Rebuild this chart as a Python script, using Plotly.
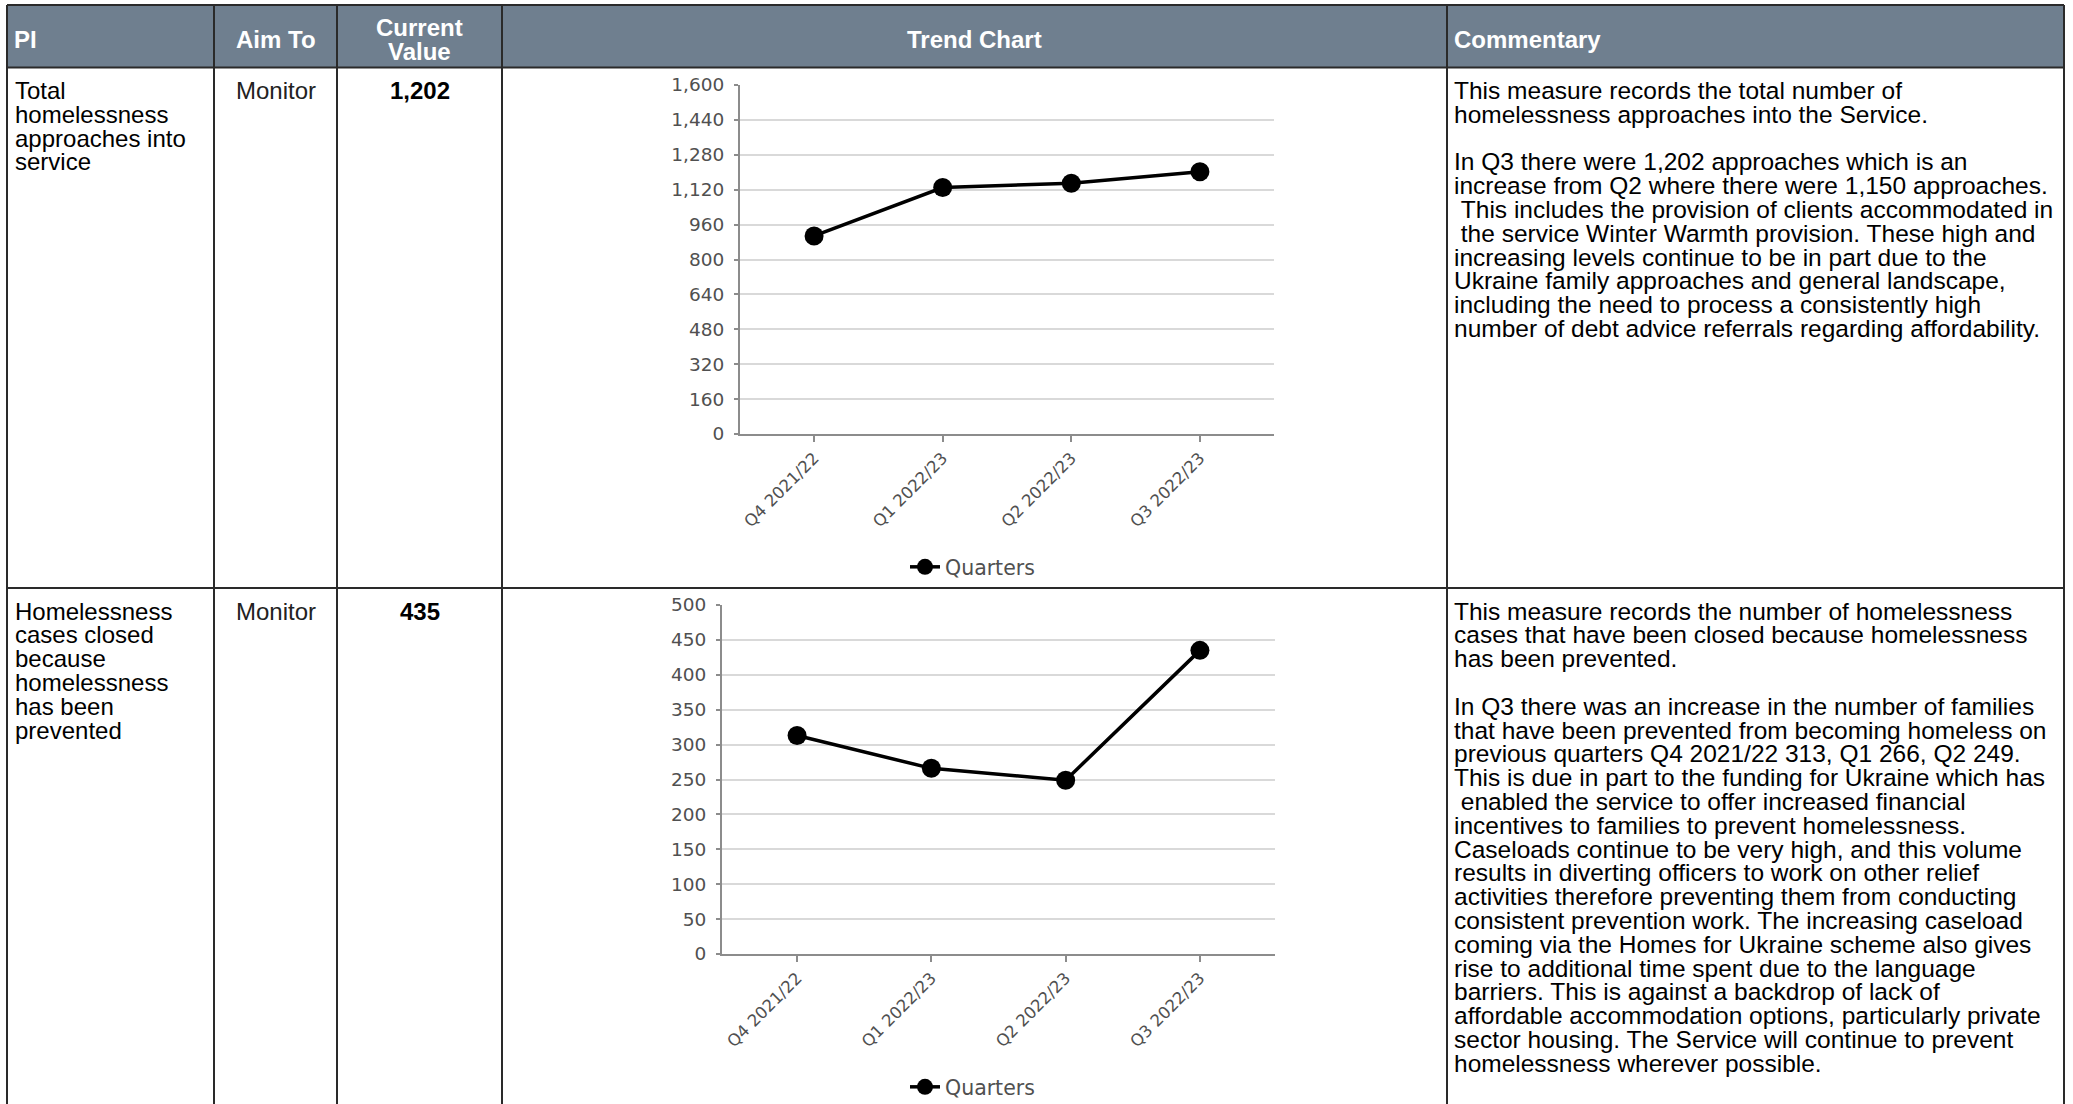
import plotly.graph_objects as go

W, H = 2073, 1104

# ---------------- data ----------------
quarters = ["Q4 2021/22", "Q1 2022/23", "Q2 2022/23", "Q3 2022/23"]
approaches = [908, 1130, 1150, 1202]
prevented = [313, 266, 249, 435]
y1_ticks = [0, 160, 320, 480, 640, 800, 960, 1120, 1280, 1440, 1600]
y2_ticks = [0, 50, 100, 150, 200, 250, 300, 350, 400, 450, 500]
series_name = "Quarters"

headers = ["PI", "Aim To", ["Current", "Value"], "Trend Chart", "Commentary"]
pi_names = [
    ["Total", "homelessness", "approaches into", "service"],
    ["Homelessness", "cases closed", "because", "homelessness", "has been", "prevented"],
]
aim_to = ["Monitor", "Monitor"]
current_values = ["1,202", "435"]
commentary = [
    [
        "This measure records the total number of",
        "homelessness approaches into the Service.",
        "",
        "In Q3 there were 1,202 approaches which is an",
        "increase from Q2 where there were 1,150 approaches.",
        "\u00a0This includes the provision of clients accommodated in",
        "\u00a0the service Winter Warmth provision. These high and",
        "increasing levels continue to be in part due to the",
        "Ukraine family approaches and general landscape,",
        "including the need to process a consistently high",
        "number of debt advice referrals regarding affordability.",
    ],
    [
        "This measure records the number of homelessness",
        "cases that have been closed because homelessness",
        "has been prevented.",
        "",
        "In Q3 there was an increase in the number of families",
        "that have been prevented from becoming homeless on",
        "previous quarters Q4 2021/22 313, Q1 266, Q2 249.",
        "This is due in part to the funding for Ukraine which has",
        "\u00a0enabled the service to offer increased financial",
        "incentives to families to prevent homelessness.",
        "Caseloads continue to be very high, and this volume",
        "results in diverting officers to work on other relief",
        "activities therefore preventing them from conducting",
        "consistent prevention work. The increasing caseload",
        "coming via the Homes for Ukraine scheme also gives",
        "rise to additional time spent due to the language",
        "barriers. This is against a backdrop of lack of",
        "affordable accommodation options, particularly private",
        "sector housing. The Service will continue to prevent",
        "homelessness wherever possible.",
    ],
]

# ---------------- geometry helpers ----------------
def fx(p):
    return p / W

def fy(p):
    return 1 - p / H

col_edges = [7, 214, 337, 502, 1447, 2064]
row_edges = [5, 67.5, 588, 1110]
row_text_top = [90.5, 611]
line_h = 23.8
header_fill = "#6F7F8F"
border_col = "#2a2a2a"
TXT_FONT = "Liberation Sans, Arial, sans-serif"
CH_FONT = "DejaVu Sans, Verdana, sans-serif"
tick_col = "#505050"
axis_col = "#8c8c8c"
grid_col = "#d9d9d9"

fig = go.Figure()

fig.add_trace(go.Scatter(
    x=quarters, y=approaches, mode="lines+markers", name=series_name,
    line=dict(color="black", width=3.5), marker=dict(color="black", size=19),
    xaxis="x", yaxis="y", legend="legend", hoverinfo="x+y",
))
fig.add_trace(go.Scatter(
    x=quarters, y=prevented, mode="lines+markers", name=series_name,
    line=dict(color="black", width=3.5), marker=dict(color="black", size=19),
    xaxis="x2", yaxis="y2", legend="legend2", hoverinfo="x+y",
))

shapes = []
# header background
shapes.append(dict(type="rect", xref="paper", yref="paper",
                   x0=fx(col_edges[0]), x1=fx(col_edges[-1]),
                   y0=fy(row_edges[1]), y1=fy(row_edges[0]),
                   fillcolor=header_fill, line=dict(width=0), layer="below"))
# horizontal borders
for yy in row_edges[:-1]:
    shapes.append(dict(type="line", xref="paper", yref="paper",
                       x0=fx(col_edges[0]), x1=fx(col_edges[-1]), y0=fy(yy), y1=fy(yy),
                       line=dict(color=border_col, width=2)))
# vertical borders
for xx in col_edges:
    shapes.append(dict(type="line", xref="paper", yref="paper",
                       x0=fx(xx), x1=fx(xx), y0=fy(row_edges[0]), y1=fy(row_edges[-1]),
                       line=dict(color=border_col, width=2)))

annotations = []

def add_text(x, y, text, anchor="left", bold=False, color="black", size=24, family=TXT_FONT):
    t = "<b>%s</b>" % text if bold else text
    annotations.append(dict(xref="paper", yref="paper", x=fx(x), y=fy(y), text=t,
                            showarrow=False, xanchor=anchor, yanchor="middle",
                            font=dict(family=family, size=size, color=color),
                            borderpad=0))

# header texts
hdr_mid = (row_edges[0] + row_edges[1]) / 2 + 3
for i, h in enumerate(headers):
    left, right = col_edges[i], col_edges[i + 1]
    if i in (0, 4):
        xx, anc = left + 6, "left"
    else:
        xx, anc = (left + right) / 2, "center"
    lines = h if isinstance(h, list) else [h]
    n = len(lines)
    for k, ln in enumerate(lines):
        add_text(xx, hdr_mid + (k - (n - 1) / 2) * line_h, ln, anc, bold=True, color="white")

# body rows
for r in range(2):
    y0 = row_text_top[r]
    for k, ln in enumerate(pi_names[r]):
        add_text(col_edges[0] + 7, y0 + k * line_h, ln)
    add_text((col_edges[1] + col_edges[2]) / 2, y0, aim_to[r], "center", color="#222222")
    add_text((col_edges[2] + col_edges[3]) / 2, y0, current_values[r], "center", bold=True)
    for k, ln in enumerate(commentary[r]):
        if ln:
            add_text(col_edges[4] + 6, y0 + k * line_h, ln, size=24.5)

xaxis_common = dict(
    showline=True, linecolor=axis_col, linewidth=2, ticks="outside", ticklen=6,
    tickcolor=axis_col, tickwidth=1.5, tickangle=-45, showgrid=False, zeroline=False,
    tickfont=dict(family=CH_FONT, size=16.5, color=tick_col), fixedrange=True,
    automargin=False,
)
yaxis_common = dict(
    showline=True, linecolor=axis_col, linewidth=2, ticks="outside", ticklen=4,
    tickcolor=axis_col, tickwidth=1.5, showgrid=True, gridcolor=grid_col, gridwidth=1.5,
    zeroline=False, tickformat=",", ticklabelstandoff=6,
    tickfont=dict(family=CH_FONT, size=18.5, color=tick_col), fixedrange=True,
    automargin=False,
)

legend_common = dict(xanchor="left", yanchor="middle",
                     font=dict(family=CH_FONT, size=20.5, color=tick_col),
                     bgcolor="rgba(0,0,0,0)", borderwidth=0)

fig.update_layout(
    width=W, height=H, margin=dict(l=0, r=0, t=0, b=0, autoexpand=False),
    paper_bgcolor="white", plot_bgcolor="white",
    xaxis=dict(xaxis_common, domain=[fx(740), fx(1274)], range=[-0.576, 3.576], anchor="y"),
    yaxis=dict(yaxis_common, domain=[fy(434), fy(85)], range=[0, 1600], tickvals=y1_ticks, anchor="x"),
    xaxis2=dict(xaxis_common, domain=[fx(722), fx(1275)], range=[-0.559, 3.559], anchor="y2"),
    yaxis2=dict(yaxis_common, domain=[fy(954), fy(605)], range=[0, 500], tickvals=y2_ticks, anchor="x2"),
    legend=dict(legend_common, x=fx(905), y=fy(567)),
    legend2=dict(legend_common, x=fx(905), y=fy(1087)),
    shapes=shapes, annotations=annotations, showlegend=True,
)

fig.write_html("out.html")
